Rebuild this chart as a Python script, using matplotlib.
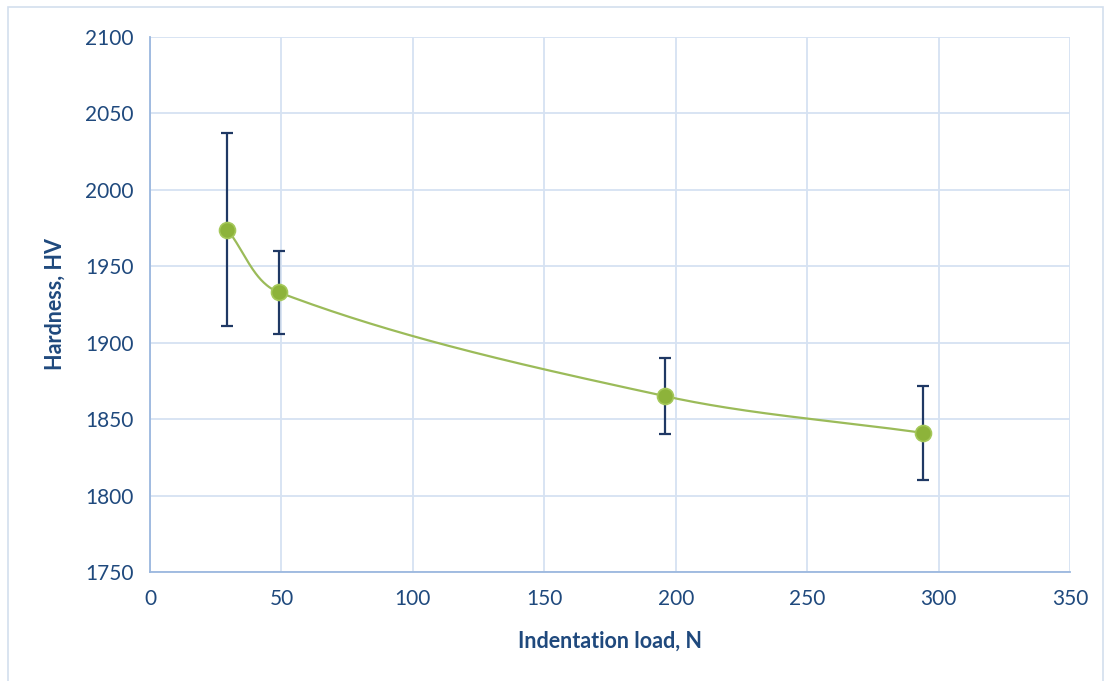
import numpy as np
import matplotlib.pyplot as plt
from matplotlib.patches import Rectangle

# Hardness vs indentation load
load_n = [29.4, 49, 196, 294]
hardness_hv = [1974, 1933, 1865, 1841]
hv_error = [63, 27, 25, 31]

x_ticks = [0, 50, 100, 150, 200, 250, 300, 350]
y_ticks = [1750, 1800, 1850, 1900, 1950, 2000, 2050, 2100]

text_col = '#1F497D'
grid_col = '#D6E2F2'
spine_col = '#9BB7DE'
green = '#8DB33A'


def smooth_curve(ax, xs, ys, n=80):
    # Excel-like smoothed line, built in screen space so the shape matches
    pts = ax.transData.transform(np.column_stack([xs, ys]))
    out = []
    for i in range(len(pts) - 1):
        p0 = pts[max(i - 1, 0)]
        p1 = pts[i]
        p2 = pts[i + 1]
        p3 = pts[min(i + 2, len(pts) - 1)]
        d = np.linalg.norm(p2 - p1) / 3
        t1 = (p2 - p0) / np.linalg.norm(p2 - p0)
        t2 = (p3 - p1) / np.linalg.norm(p3 - p1)
        c1 = p1 + t1 * d
        c2 = p2 - t2 * d
        t = np.linspace(0, 1, n)[:, None]
        seg = ((1 - t) ** 3) * p1 + 3 * ((1 - t) ** 2) * t * c1 \
            + 3 * (1 - t) * t ** 2 * c2 + t ** 3 * p2
        out.append(seg)
    out = ax.transData.inverted().transform(np.vstack(out))
    return out[:, 0], out[:, 1]


plt.rcParams['font.family'] = ['Lato', 'DejaVu Sans']

fig = plt.figure(figsize=(11.08, 6.81), dpi=100)
fig.patches.append(Rectangle((8 / 1108, -0.01), 1095 / 1108, 1 - 7 / 681 + 0.01,
                             transform=fig.transFigure, fill=False,
                             edgecolor='#D3DFEE', linewidth=1.2))
ax = fig.add_axes([150 / 1108, 1 - 572 / 681, 920 / 1108, 535 / 681])
ax.set_xlim(0, 350)
ax.set_ylim(1750, 2100)

sx, sy = smooth_curve(ax, load_n, hardness_hv)
ax.plot(sx, sy, color='#9BBB59', linewidth=1.6, zorder=3)
ax.errorbar(load_n, hardness_hv, yerr=hv_error, fmt='none', ecolor='#1F3864',
            elinewidth=1.6, capsize=4.5, capthick=1.6, zorder=2)
ax.plot(load_n, hardness_hv, 'o', color=green, markersize=11.5,
        markeredgecolor='#A5C85A', markeredgewidth=1.2, zorder=4)

ax.set_xticks(x_ticks)
ax.set_yticks(y_ticks)
ax.grid(True, color=grid_col, linewidth=1.3)
ax.set_axisbelow(True)

for side in ['top', 'right']:
    ax.spines[side].set_visible(False)
for side in ['left', 'bottom']:
    ax.spines[side].set_color(spine_col)
    ax.spines[side].set_linewidth(1.3)

ax.tick_params(length=0, labelsize=15, colors=text_col, pad=12)
ax.set_xlabel('Indentation load, N', fontsize=15.5, fontweight='bold',
              color=text_col, labelpad=16)
ax.set_ylabel('Hardness, HV', fontsize=15.5, fontweight='bold',
              color=text_col, labelpad=14)

plt.savefig('out.png', dpi=100)
